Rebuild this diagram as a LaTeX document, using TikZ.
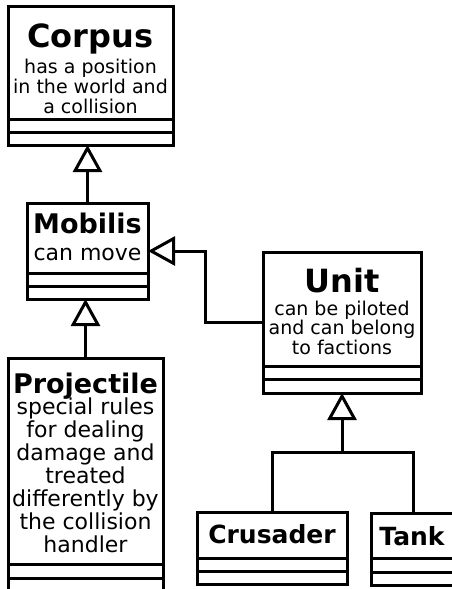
\documentclass[tikz,border=0pt]{standalone}
\usepackage{fontspec}
\setmainfont{DejaVu Sans}
\usetikzlibrary{arrows.meta}
\begin{document}
\begin{tikzpicture}[x=1pt,y=-1pt,
  cls/.style={draw, line width=3pt, inner sep=0pt, outer sep=0pt, anchor=north west},
  divider/.style={line width=3pt},
  ttl/.style={anchor=base, inner sep=0pt, font=\bfseries\fontsize{#1}{#1}\selectfont},
  dsc/.style={anchor=base, inner sep=0pt, align=center},
  conn/.style={line width=3pt},
  gen/.style={line width=3pt, -{Triangle[open, length=27pt, width=29pt]}}
]
\useasboundingbox (0,0) rectangle (452,589);

% Corpus
\node[cls, minimum width=165pt, minimum height=139pt] (corpus) at (8,6) {};
\draw[divider] (8,119) -- (173,119) (8,132) -- (173,132);
\node[ttl=32] (corpusT) at (90.5,47) {Corpus};
\node[dsc, font=\fontsize{19}{19.7}\selectfont] (corpusD) at (90.5,113) {has a position\\in the world and\\a collision};

% Mobilis
\node[cls, minimum width=121pt, minimum height=96pt] (mobilis) at (27,203) {};
\draw[divider] (27,273) -- (148,273) (27,286) -- (148,286);
\node[ttl=27] (mobilisT) at (87.5,233) {Mobilis};
\node[dsc, font=\fontsize{22}{22}\selectfont] (mobilisD) at (87.5,260) {can move};

% Unit
\node[cls, minimum width=158pt, minimum height=141pt] (unit) at (263,252) {};
\draw[divider] (263,366) -- (421,366) (263,379) -- (421,379);
\node[ttl=32] (unitT) at (342,292) {Unit};
\node[dsc, font=\fontsize{19}{18}\selectfont] (unitD) at (342,354) {can be piloted\\and can belong\\to factions};

% Projectile
\node[cls, minimum width=155pt, minimum height=240pt] (projectile) at (8,358) {};
\draw[divider] (8,564) -- (163,564) (8,578) -- (163,578);
\node[ttl=27] (projectileT) at (85.5,393) {Projectile};
\node[dsc, font=\fontsize{22}{23}\selectfont] (projectileD) at (85.5,552) {special rules\\for dealing\\damage and\\treated\\differently by\\the collision\\handler};

% Crusader
\node[cls, minimum width=150pt, minimum height=72pt] (crusader) at (197,512) {};
\draw[divider] (197,558) -- (347,558) (197,571) -- (347,571);
\node[ttl=25] (crusaderT) at (272,543) {Crusader};

% Tank
\node[cls, minimum width=84pt, minimum height=72pt] (tank) at (371,513) {};
\draw[divider] (371,558) -- (455,558) (371,572) -- (455,572);
\node[ttl=25] (tankT) at (412,545) {Tank};

% connectors
\coordinate (bend) at (205,0);
\coordinate (join) at (342,452);
\draw[gen] (mobilis.north) -- (mobilis.north |- corpus.south);
\draw[gen] (projectile.north) -- (projectile.north |- mobilis.south);
\draw[gen] (unit.west) -- (unit.west -| bend) |- (mobilis.east);
\draw[conn] (crusader.north) |- (join) -| (tank.north);
\draw[gen] (join) -- (unit.south);
\end{tikzpicture}
\end{document}
